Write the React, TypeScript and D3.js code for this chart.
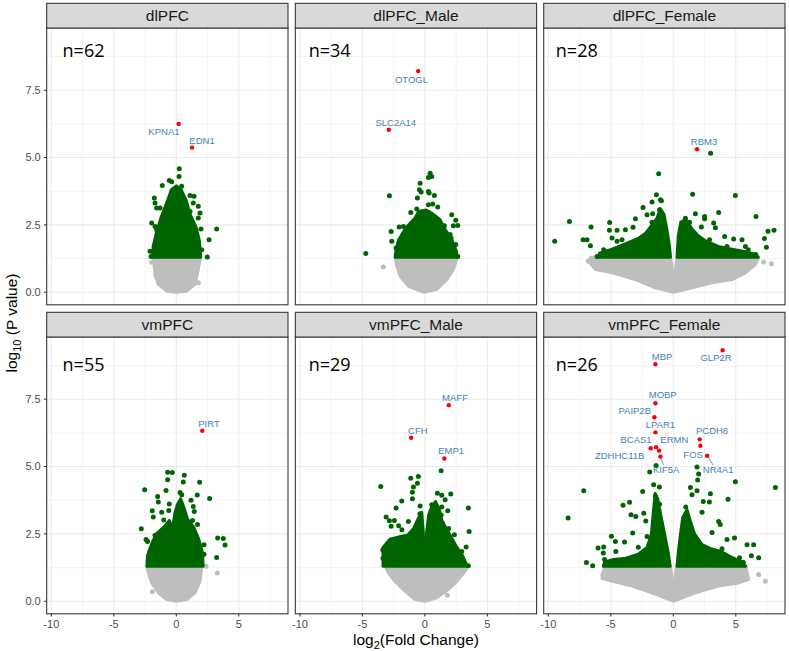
import React from 'react';
import * as d3 from 'd3';

type P = [number, number];
type Gene = [string, number, number];

const facets = ['dlPFC', 'dlPFC_Male', 'dlPFC_Female', 'vmPFC', 'vmPFC_Male', 'vmPFC_Female'];
const nCounts = [62, 34, 28, 55, 29, 26];

const xTicks = [-10, -5, 0, 5];
const yTicks = [0, 2.5, 5, 7.5];
const xMinor = [-7.5, -2.5, 2.5, 7.5];
const yMinor = [1.25, 3.75, 6.25, 8.75];

// ---- dlPFC ----
const dlpfcGrey: P[] = [[-1.85, 1.3], [-1.78, 1.03], [-1.68, 0.59], [-1.44, 0.29], [-0.77, 0.04], [0, 0], [0.83, 0.04], [1.5, 0.29], [1.71, 0.72], [1.9, 1.21], [1.95, 1.3]];
const dlpfcGreen: P[][] = [[[-1.9, 1.3], [-1.85, 1.7], [-1.6, 2.2], [-1.2, 2.8], [-0.7, 3.4], [-0.4, 3.8], [0, 3.95], [0.4, 3.8], [0.8, 3.4], [1.1, 2.9], [1.6, 2.4], [1.85, 1.9], [1.95, 1.3]]];
const dlpfcGreenPts: P[] = [[0.24, 4.58], [0.22, 4.3], [-1.12, 3.96], [-0.56, 4.15], [-0.37, 4.1], [0.43, 3.93], [1.1, 3.59], [1.42, 3.56], [1.36, 3.31], [1.76, 3.19], [1.9, 2.94], [1.76, 2.76], [-1.76, 3.5], [-1.7, 3.31], [-1.57, 3.13], [-1.3, 3.13], [-1.97, 2.57], [-1.7, 2.44], [-1.57, 2.32], [-2.1, 1.52], [-2.02, 1.33], [3.23, 2.35], [2.62, 1.95], [2.48, 1.31], [1.98, 2.35], [2.03, 1.58], [1.1, 3.0], [-0.1, 3.56]];
const dlpfcGreyPts: P[] = [[-1.97, 1.11], [1.76, 0.35]];
const dlpfcRed: Gene[] = [['KPNA1', 0.19, 6.25], ['EDN1', 1.26, 5.37]];

// ---- dlPFC_Male ----
const dlpfcMaleGrey: P[] = [[-2.38, 1.3], [-2.25, 0.96], [-1.98, 0.59], [-1.32, 0.22], [-0.1, 0], [0.95, 0.1], [1.75, 0.47], [2.28, 0.84], [2.6, 1.3]];
const dlpfcMaleGreen: P[][] = [[[-2.38, 1.3], [-2.3, 1.6], [-2.1, 1.95], [-1.5, 2.4], [-0.8, 2.75], [-0.5, 3.0], [0.1, 3.05], [0.5, 2.95], [1.2, 2.7], [1.6, 2.35], [2.2, 1.9], [2.5, 1.55], [2.6, 1.3]]];
const dlpfcMaleGreenPts: P[] = [[0.42, 4.42], [0.55, 4.3], [0.28, 4.26], [-0.38, 4.05], [-0.44, 3.8], [-0.3, 3.72], [0.28, 3.74], [0.34, 3.68], [0.76, 3.59], [-0.6, 3.5], [-2.84, 3.58], [0.28, 3.25], [0.63, 3.28], [1.03, 3.16], [-1.13, 2.96], [-0.65, 3.09], [0.3, 2.96], [2.15, 2.88], [2.47, 2.67], [2.28, 2.47], [2.63, 2.48], [1.56, 2.47], [-2.7, 2.25], [-2.06, 2.42], [-1.72, 2.44], [-2.65, 1.89], [-2.3, 1.64], [2.02, 2.14], [2.1, 2.0], [2.47, 1.77], [2.63, 1.33], [-4.73, 1.44]];
const dlpfcMaleGreyPts: P[] = [[-3.32, 0.94]];
const dlpfcMaleRed: Gene[] = [['OTOGL', -0.54, 8.21], ['SLC2A14', -2.89, 6.03]];

// ---- dlPFC_Female ----
const dlpfcFemaleGrey: P[] = [[-6.6, 1.3], [-6.77, 1.15], [-6.23, 0.84], [-4.9, 0.72], [-3.03, 0.47], [-1.43, 0.16], [0, 0], [1.5, 0.16], [3.1, 0.35], [4.7, 0.47], [5.77, 0.72], [6.57, 1.03], [6.83, 1.27], [6.8, 1.3], [0.3, 1.3], [0.05, 0.45], [-0.22, 1.3]];
const dlpfcFemaleGreen: P[][] = [
  [[-6.0, 1.3], [-5.9, 1.45], [-4.9, 1.6], [-3.8, 1.8], [-2.8, 2.0], [-2.2, 2.2], [-1.7, 2.5], [-1.3, 2.75], [-1.05, 3.1], [-0.75, 2.9], [-0.5, 2.3], [-0.3, 1.7], [-0.22, 1.3]],
  [[0.3, 1.3], [0.4, 2.1], [0.6, 2.6], [1.0, 2.7], [1.5, 2.35], [2.0, 2.1], [2.6, 1.9], [3.6, 1.7], [4.7, 1.6], [5.8, 1.5], [6.6, 1.4], [6.8, 1.3]],
];
const dlpfcFemaleGreenPts: P[] = [[-9.49, 1.89], [-8.31, 2.63], [-7.22, 1.95], [-6.9, 1.95], [-6.63, 1.73], [-6.58, 2.42], [-5.09, 2.59], [-5.11, 2.3], [-4.9, 2.01], [-4.5, 2.3], [-3.83, 2.32], [-4.5, 1.89], [-4.1, 1.95], [-3.22, 2.41], [-3.03, 2.73], [-2.42, 3.15], [-2.1, 2.88], [-1.65, 2.91], [-1.7, 3.35], [-1.35, 3.62], [-1.03, 3.43], [-0.95, 3.4], [-1.1, 3.06], [-1.17, 4.4], [-1.7, 2.6], [-5.57, 1.58], [-5.5, 1.4], [-6.1, 1.33], [1.55, 3.64], [2.99, 5.16], [4.97, 3.59], [3.63, 2.96], [2.51, 2.81], [2.51, 2.73], [1.77, 2.91], [3.23, 2.57], [3.37, 2.39], [2.25, 2.42], [6.62, 2.81], [7.58, 2.26], [8.06, 2.3], [7.29, 1.99], [7.45, 1.67], [4.83, 1.98], [5.5, 1.95], [4.11, 2.07], [4.3, 1.7], [5.77, 1.7], [6.0, 1.58], [6.6, 1.4], [0.97, 2.75], [1.3, 2.6], [2.9, 1.95]];
const dlpfcFemaleGreyPts: P[] = [[7.23, 1.12], [7.85, 1.06], [-6.8, 1.15]];
const dlpfcFemaleRed: Gene[] = [['RBM3', 1.9, 5.31]];

// ---- vmPFC ----
const vmpfcGrey: P[] = [[-2.37, 1.3], [-2.24, 1.05], [-1.97, 0.68], [-1.44, 0.31], [-0.77, 0.06], [0, 0], [0.83, 0.06], [1.5, 0.31], [1.9, 0.74], [2.03, 1.23], [2.05, 1.3]];
const vmpfcGreen: P[][] = [[[-2.35, 1.3], [-2.3, 1.7], [-2.0, 2.1], [-1.6, 2.5], [-1.0, 2.75], [-0.55, 3.0], [-0.3, 2.7], [-0.1, 3.3], [0.1, 3.6], [0.35, 3.8], [0.6, 3.5], [0.9, 3.05], [1.4, 2.75], [1.8, 2.3], [2.1, 1.8], [2.15, 1.3]]];
const vmpfcGreenPts: P[] = [[-0.69, 4.79], [-0.32, 4.78], [-0.69, 4.51], [0.64, 4.68], [0.56, 4.43], [1.87, 4.42], [-2.53, 4.14], [-0.82, 4.11], [-1.49, 3.89], [-1.44, 3.68], [0.3, 4.04], [0.43, 3.95], [1.68, 3.94], [1.18, 3.75], [2.67, 3.81], [-0.56, 3.61], [-0.6, 3.37], [-1.92, 3.36], [-1.84, 3.13], [-1.17, 3.3], [-1.0, 3.02], [1.36, 3.52], [1.44, 3.33], [1.3, 3.0], [1.7, 2.85], [-2.8, 2.69], [-2.42, 2.29], [-2.3, 2.22], [-2.1, 1.85], [-2.16, 1.6], [3.31, 2.35], [3.76, 2.33], [3.9, 2.09], [3.23, 1.62], [2.22, 2.1], [2.22, 1.74], [-1.7, 2.45]];
const vmpfcGreyPts: P[] = [[-1.92, 0.35], [2.38, 1.3], [3.28, 1.05]];
const vmpfcRed: Gene[] = [['PIRT', 2.08, 6.33]];

// ---- vmPFC_Male ----
const vmpfcMaleGrey: P[] = [[-3.18, 1.3], [-2.92, 1.05], [-2.52, 0.8], [-1.72, 0.43], [-0.78, 0.06], [0, 0], [0.95, 0.13], [1.88, 0.43], [2.68, 0.8], [3.3, 1.17], [3.35, 1.3]];
const vmpfcMaleGreen: P[][] = [
  [[-3.35, 1.3], [-3.35, 2.0], [-2.8, 2.3], [-2.0, 2.4], [-1.4, 2.45], [-0.9, 2.7], [-0.5, 3.1], [-0.25, 3.3], [-0.12, 2.5], [-0.07, 1.3]],
  [[0.05, 1.3], [0.1, 2.4], [0.3, 3.2], [0.55, 3.5], [0.85, 3.7], [1.15, 3.4], [1.4, 2.95], [1.9, 2.55], [2.5, 2.05], [3.0, 1.7], [3.3, 1.4], [3.35, 1.3]],
];
const vmpfcMaleGreenPts: P[] = [[-3.53, 4.26], [-1.13, 4.57], [-0.52, 4.63], [-0.6, 4.38], [-0.92, 4.24], [-1.0, 4.05], [-1.0, 3.8], [-1.85, 3.72], [-2.3, 3.46], [-0.38, 3.54], [-0.4, 3.25], [-3.1, 3.13], [-2.84, 2.99], [-2.44, 3.0], [-2.7, 2.78], [-2.1, 2.8], [-1.32, 2.96], [-1.84, 2.65], [1.3, 4.84], [1.0, 4.01], [1.35, 3.93], [2.07, 3.98], [1.62, 3.77], [1.35, 3.5], [0.55, 3.58], [0.5, 3.33], [0.7, 3.4], [1.83, 3.36], [3.48, 3.46], [1.3, 3.2], [1.4, 2.9], [1.9, 2.7], [2.36, 2.47], [3.54, 2.59], [3.3, 2.01], [2.95, 1.85], [2.7, 1.7], [3.1, 1.5], [3.48, 1.32], [-3.37, 1.9], [-3.35, 1.6]];
const vmpfcMaleGreyPts: P[] = [[1.8, 0.22]];
const vmpfcMaleRed: Gene[] = [['MAFF', 1.91, 7.28], ['CFH', -1.1, 6.07], ['EMP1', 1.56, 5.3]];

// ---- vmPFC_Female ----
const vmpfcFemaleGrey: P[] = [[-5.45, 1.3], [-5.7, 1.0], [-5.7, 0.85], [-4.9, 0.74], [-3.3, 0.56], [-1.7, 0.31], [0, 0], [1.77, 0.31], [3.63, 0.56], [5.23, 0.68], [6.03, 0.8], [5.9, 1.05], [5.8, 1.3], [0.25, 1.3], [0.02, 0.35], [-0.22, 1.3]];
const vmpfcFemaleGreen: P[][] = [
  [[-5.6, 1.3], [-5.5, 1.45], [-4.8, 1.55], [-3.8, 1.6], [-2.8, 1.75], [-2.1, 2.0], [-1.75, 2.5], [-1.6, 3.3], [-1.45, 4.0], [-1.25, 3.8], [-1.0, 3.2], [-0.7, 2.5], [-0.4, 1.8], [-0.25, 1.3]],
  [[0.3, 1.3], [0.4, 1.8], [0.55, 2.4], [0.75, 3.1], [1.1, 3.4], [1.35, 3.0], [1.7, 2.5], [2.3, 2.1], [3.0, 1.95], [3.8, 1.85], [4.6, 1.65], [5.5, 1.45], [5.8, 1.3]],
];
const vmpfcFemaleGreenPts: P[] = [[-7.17, 4.1], [-8.42, 3.09], [-2.45, 4.07], [-1.89, 4.8], [-1.38, 5.04], [-1.57, 4.32], [-1.11, 4.24], [-1.43, 3.9], [-1.1, 3.6], [-4.02, 3.56], [-3.5, 3.67], [-3.38, 3.21], [-3.0, 3.15], [-2.36, 3.27], [-2.2, 2.98], [-2.1, 2.4], [-3.25, 2.53], [-4.95, 2.41], [-4.63, 2.22], [-3.9, 2.2], [-6.02, 1.98], [-5.57, 2.01], [-5.6, 1.79], [-6.95, 1.44], [-6.45, 1.32], [-5.5, 1.55], [-4.6, 1.85], [-2.8, 2.0], [1.9, 4.98], [2.03, 4.72], [1.95, 4.5], [1.37, 4.22], [1.5, 3.95], [1.9, 4.1], [2.97, 3.99], [4.38, 3.79], [4.97, 4.44], [8.17, 4.22], [2.89, 3.68], [2.4, 3.7], [1.0, 3.5], [2.3, 3.3], [3.63, 2.96], [3.76, 2.85], [3.1, 2.55], [4.3, 2.29], [4.9, 2.35], [3.9, 1.95], [5.9, 2.1], [6.43, 2.1], [6.25, 1.69], [6.83, 1.61], [5.3, 1.61], [5.6, 1.45]];
const vmpfcFemaleGreyPts: P[] = [[5.5, 1.26], [5.75, 1.15], [6.83, 0.99], [7.37, 0.74]];
const vmpfcFemaleRed: Gene[] = [['GLP2R', 3.95, 9.32], ['MBP', -1.43, 8.8], ['MOBP', -1.43, 7.35], ['PAIP2B', -1.51, 6.83], ['LPAR1', -1.43, 6.27], ['BCAS1', -1.81, 5.68], ['ERMN', -1.38, 5.72], ['ZDHHC11B', -1.14, 5.59], ['KIF5A', -1.03, 5.37], ['PCDH8', 2.11, 6.01], ['FOS', 2.17, 5.77], ['NR4A1', 2.71, 5.4]];

// label placement (pixel offsets of label centre/baseline from its point)
const labelNudge: Record<string, [number, number]> = {
  KPNA1: [-14.7, 11.6], EDN1: [10, -3.4], OTOGL: [-6.7, 12.3], SLC2A14: [7, -4], RBM3: [7, -4.3],
  PIRT: [6.7, -4.1], MAFF: [6.3, -4], CFH: [6.7, -4.1], EMP1: [6.7, -4],
  GLP2R: [-6.6, 10.6], MBP: [6.7, -4], MOBP: [7.3, -5.3], PAIP2B: [-19.7, -3], LPAR1: [5, -4],
  BCAS1: [-14.6, -5], ERMN: [18.3, -4], ZDHHC11B: [-39.4, 8.6], KIF5A: [5.7, 16.6],
  PCDH8: [12.4, -5], FOS: [-7.3, 12.3], NR4A1: [11, 17.3],
};
const segmentGenes = ['KIF5A', 'NR4A1'];

const greyHulls = [dlpfcGrey, dlpfcMaleGrey, dlpfcFemaleGrey, vmpfcGrey, vmpfcMaleGrey, vmpfcFemaleGrey];
const greenHulls = [dlpfcGreen, dlpfcMaleGreen, dlpfcFemaleGreen, vmpfcGreen, vmpfcMaleGreen, vmpfcFemaleGreen];
const greenPts = [dlpfcGreenPts, dlpfcMaleGreenPts, dlpfcFemaleGreenPts, vmpfcGreenPts, vmpfcMaleGreenPts, vmpfcFemaleGreenPts];
const greyPts = [dlpfcGreyPts, dlpfcMaleGreyPts, dlpfcFemaleGreyPts, vmpfcGreyPts, vmpfcMaleGreyPts, vmpfcFemaleGreyPts];
const redGenes = [dlpfcRed, dlpfcMaleRed, dlpfcFemaleRed, vmpfcRed, vmpfcMaleRed, vmpfcFemaleRed];
const nTextX = [-9.1, -9.3, -9.4];
const nTextY = [8.74, 8.55];

const COLS = [46.7, 295.3, 543.7];
const ROWS = [3.3, 312.3];
const PANEL_W = 241.3;
const STRIP_H = 24.7;
const PANEL_H = 276.8;

const GREY = '#BEBEBE';
const GREEN = '#006400';
const LABEL = '#4682B4';

export default function App() {
  const x = d3.scaleLinear().domain([-10.37, 8.94]).range([0, PANEL_W]);
  const y = d3.scaleLinear().domain([-0.467, 9.81]).range([PANEL_H, 0]);
  const hull = d3.line<P>().x((d) => x(d[0])).y((d) => y(d[1])).curve(d3.curveLinearClosed);

  return (
    <svg width={789} height={651} style={{ position: 'absolute', left: 0, top: 0 }} fontFamily="'Liberation Sans', Arial, sans-serif">
      <rect width={789} height={651} fill="#fff" />
      {facets.map((name, i) => {
        const col = i % 3;
        const row = Math.floor(i / 3);
        const left = COLS[col];
        const top = ROWS[row] + STRIP_H;
        return (
          <g key={name}>
            <g transform={`translate(${left},${top})`}>
              <rect width={PANEL_W} height={PANEL_H} fill="#fff" />
              {xMinor.map((t) => <line key={'xm' + t} x1={x(t)} x2={x(t)} y1={0} y2={PANEL_H} stroke="#EBEBEB" strokeWidth={0.55} />)}
              {yMinor.map((t) => <line key={'ym' + t} x1={0} x2={PANEL_W} y1={y(t)} y2={y(t)} stroke="#EBEBEB" strokeWidth={0.55} />)}
              {xTicks.map((t) => <line key={'xg' + t} x1={x(t)} x2={x(t)} y1={0} y2={PANEL_H} stroke="#EBEBEB" strokeWidth={1.07} />)}
              {yTicks.map((t) => <line key={'yg' + t} x1={0} x2={PANEL_W} y1={y(t)} y2={y(t)} stroke="#EBEBEB" strokeWidth={1.07} />)}

              <path d={hull(greyHulls[i]) ?? ''} fill={GREY} stroke={GREY} strokeWidth={3} strokeLinejoin="round" />
              {greyPts[i].map((p, k) => <circle key={'gp' + k} cx={x(p[0])} cy={y(p[1])} r={2.5} fill={GREY} />)}
              {greenHulls[i].map((h, k) => (
                <path key={'gh' + k} d={hull(h) ?? ''} fill={GREEN} stroke={GREEN} strokeWidth={3} strokeLinejoin="round" />
              ))}
              {greenPts[i].map((p, k) => <circle key={'np' + k} cx={x(p[0])} cy={y(p[1])} r={2.5} fill={GREEN} />)}

              {redGenes[i].map(([g, gx, gy]) => {
                const [dx, dy] = labelNudge[g];
                const px = x(gx);
                const py = y(gy);
                return (
                  <g key={g}>
                    {segmentGenes.includes(g) && (
                      <line x1={px} y1={py} x2={px + dx * 0.55} y2={py + dy - 8} stroke={LABEL} strokeWidth={0.8} />
                    )}
                    <circle cx={px} cy={py} r={2.2} fill="#FF0000" />
                    <text x={px + dx} y={py + dy} textAnchor="middle" fontSize={9.5} fill={LABEL}>{g}</text>
                  </g>
                );
              })}

              <text x={x(nTextX[col])} y={y(nTextY[row])} fontFamily="'Open Sans', 'Noto Sans', sans-serif" fontSize={18} fill="#000">
                {`n=${nCounts[i]}`}
              </text>
              <rect width={PANEL_W} height={PANEL_H} fill="none" stroke="#333333" strokeWidth={1.07} />

              {col === 0 && yTicks.map((t) => (
                <g key={'yt' + t}>
                  <line x1={-2.8} x2={0} y1={y(t)} y2={y(t)} stroke="#333333" strokeWidth={1.07} />
                  <text x={-6} y={y(t)} dy="0.35em" textAnchor="end" fontSize={11} fill="#4D4D4D">{t.toFixed(1)}</text>
                </g>
              ))}
              {row === 1 && xTicks.map((t) => (
                <g key={'xt' + t}>
                  <line x1={x(t)} x2={x(t)} y1={PANEL_H} y2={PANEL_H + 2.8} stroke="#333333" strokeWidth={1.07} />
                  <text x={x(t)} y={PANEL_H + 14.5} textAnchor="middle" fontSize={11} fill="#4D4D4D">{t}</text>
                </g>
              ))}
            </g>
            <rect x={left} y={ROWS[row]} width={PANEL_W} height={STRIP_H} fill="#D9D9D9" stroke="#333333" strokeWidth={1.07} />
            <text x={left + PANEL_W / 2} y={ROWS[row] + 18} textAnchor="middle" fontSize={15.5} fill="#1A1A1A">{name}</text>
          </g>
        );
      })}

      <text x={416} y={645} textAnchor="middle" fontSize={15.5} fill="#000">
        log<tspan dy={4} fontSize={11}>2</tspan><tspan dy={-4}>(Fold Change)</tspan>
      </text>
      <text transform="translate(17,323) rotate(-90)" textAnchor="middle" fontSize={15.5} fill="#000">
        log<tspan dy={4} fontSize={11}>10</tspan><tspan dy={-4}> (P value)</tspan>
      </text>
    </svg>
  );
}
